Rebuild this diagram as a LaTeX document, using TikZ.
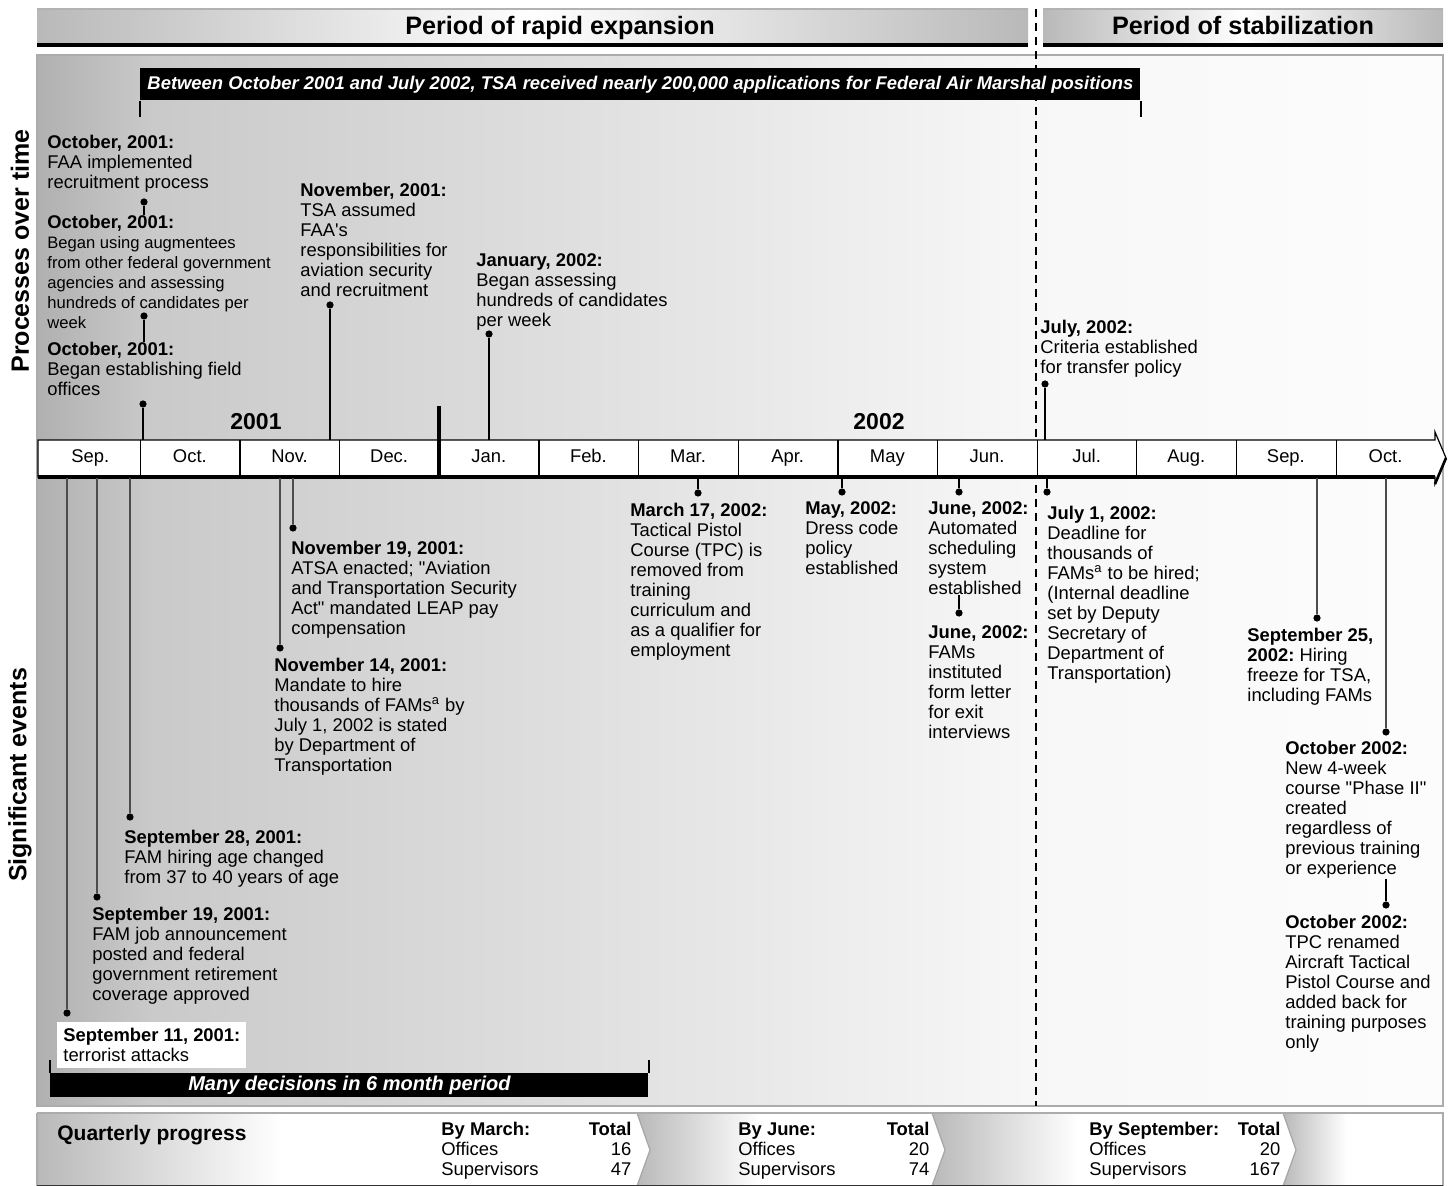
\documentclass[tikz,border=0pt]{standalone}
\usepackage{fontspec}
\setmainfont{Liberation Sans}
\usetikzlibrary{positioning}

\newcommand\evfont{\fontsize{9.2}{10}\selectfont}
\newcommand\evsmall{\fontsize{8.3}{10}\selectfont}
\pgfdeclarehorizontalshading{panelshade}{100bp}{color(0bp)=(gray!62); color(25bp)=(gray!62); color(29bp)=(gray!42); color(45bp)=(gray!24); color(60.5bp)=(gray!6); color(75bp)=(gray!2); color(100bp)=(gray!2)}
\pgfdeclarehorizontalshading{segshade}{100bp}{color(0bp)=(gray!55); color(25bp)=(gray!55); color(45bp)=(white); color(100bp)=(white)}

\begin{document}
\begin{tikzpicture}[x=0.5pt, y=-0.5pt,
    evtext/.style={anchor=north west, align=left, inner sep=0pt, font=\evfont},
    evdot/.style={circle, fill=black, inner sep=0pt, minimum size=3.6pt},
    stem/.style={line width=0.8pt},
    lstem/.style={line width=0.8pt, black!70},
    month/.style={minimum width=49.8pt, inner sep=0pt, text height=6.6pt, text depth=1.9pt, font=\evfont},
    banner/.style={fill=black, text=white, inner sep=0pt, font=\bfseries\itshape\fontsize{9.2}{10}\selectfont},
    header/.style={anchor=base, font=\bfseries\fontsize{12.6}{14}\selectfont},
    yearlbl/.style={font=\bfseries\fontsize{11.5}{13}\selectfont},
    sidelbl/.style={rotate=90, font=\bfseries\fontsize{12.5}{14}\selectfont},
    qtable/.style={anchor=north west, inner sep=0pt, font=\evfont}]

\useasboundingbox (0,0) rectangle (1450,1186);

% period headers
\shade[left color=gray!55, right color=gray!55, middle color=white] (37,9) rectangle (1028,45);
\shade[left color=gray!55, right color=gray!55, middle color=white] (1043,9) rectangle (1443,45);
\draw[gray!60, line width=1pt] (37,9) -- (1028,9) (1043,9) -- (1443,9);
\draw[line width=2pt] (37,45) -- (1028,45) (1043,45) -- (1443,45);
\node[header] (hexp) at (560,35) {Period of rapid expansion};
\node[header] (hstab) at (1243,35) {Period of stabilization};

% main panel
\shade[shading=panelshade] (37,55) rectangle (1443,1106);
\draw[gray!65, line width=1.2pt] (37,55) rectangle (1443,1106);

\node[sidelbl] (lproc) at (20,251) {Processes over time};
\node[sidelbl] (lsig) at (20,775) {Significant events};

% boundary between the two periods
\draw[line width=1.1pt, dash pattern=on 4pt off 3pt] (1036,9) -- (1036,1106);

\node[banner, anchor=north west, minimum width=500pt, minimum height=16pt] (apps) at (140,68)
    {Between October 2001 and July 2002, TSA received nearly 200,000 applications for Federal Air Marshal positions};
\draw[line width=0.7pt] (apps.south west) -- ++(0,16);
\draw[line width=0.7pt] (apps.south east) -- ++(0,16);

% timeline
\coordinate (tlt) at (0,440);
\coordinate (tlb) at (0,478);
\draw[line width=0.6pt, fill=white] (38,440) -- (1435,440) -- (1435,432) -- (1446,458) -- (1435,484) -- (1435,477) -- (38,477) -- cycle;
\foreach \m [count=\i] in {Sep.,Oct.,Nov.,Dec.,Jan.,Feb.,Mar.,Apr.,May,Jun.,Jul.,Aug.,Sep.,Oct.}
    \node[month] (m\i) at ({40.4+99.64*(\i-0.5)},458) {\m};
\foreach \i in {1,...,13}
    \draw[line width=0.6pt] (m\i.east |- tlt) -- (m\i.east |- tlb);
\draw[line width=2pt] (38,477) -- (1435,477);
\draw[line width=1.3pt] (1435,484) -- (1446,458);
\draw[line width=2pt] (m4.east |- tlb) -- ++(0,-72);
\node[yearlbl] (y2001) at (256,422) {2001};
\node[yearlbl] (y2002) at (879,422) {2002};

% processes over time
\node[evtext] (po1) at (47,135) {\textbf{October, 2001:}\\FAA implemented\\recruitment process};
\node[evtext] (po2) at (47,215) {\textbf{October, 2001:}\\\evsmall Began using augmentees\\\evsmall from other federal government\\\evsmall agencies and assessing\\\evsmall hundreds of candidates per\\\evsmall week};
\node[evtext] (po3) at (47,342) {\textbf{October, 2001:}\\Began establishing field\\offices};
\node[evtext] (pnov) at (300,183) {\textbf{November, 2001:}\\TSA assumed\\FAA\textquotesingle s\\responsibilities for\\aviation security\\and recruitment};
\node[evtext] (pjan) at (476,253) {\textbf{January, 2002:}\\Began assessing\\hundreds of candidates\\per week};
\node[evtext] (pjul) at (1040,320) {\textbf{July, 2002:}\\Criteria established\\for transfer policy};

\node[evdot] (dpo1) at (144,202) {};
\node[evdot] (dpo2) at (144,316) {};
\node[evdot] (dpo3) at (143,404) {};
\node[evdot] (dpnov) at (330,305) {};
\node[evdot] (dpjan) at (489,334) {};
\node[evdot] (dpjul) at (1045,384) {};
\draw[stem] (dpo1) -- (dpo1 |- po2.north);
\draw[stem] (dpo2) -- (dpo2 |- po3.north);
\foreach \d in {dpo3,dpnov,dpjan,dpjul}
    \draw[stem] (\d) -- (\d |- tlt);

% significant events
\node[evtext, fill=white, inner xsep=3pt, inner ysep=3pt] (se11) at (57,1022) {\textbf{September 11, 2001:}\\terrorist attacks};
\node[evtext] (se19) at (92,907) {\textbf{September 19, 2001:}\\FAM job announcement\\posted and federal\\government retirement\\coverage approved};
\node[evtext] (se28) at (124,830) {\textbf{September 28, 2001:}\\FAM hiring age changed\\from 37 to 40 years of age};
\node[evtext] (sn14) at (274,658) {\textbf{November 14, 2001:}\\Mandate to hire\\thousands of FAMs\textsuperscript{a} by\\July 1, 2002 is stated\\by Department of\\Transportation};
\node[evtext] (sn19) at (291,541) {\textbf{November 19, 2001:}\\ATSA enacted; \textquotedbl Aviation\\and Transportation Security\\Act\textquotedbl{} mandated LEAP pay\\compensation};
\node[evtext] (sm17) at (630,503) {\textbf{March 17, 2002:}\\Tactical Pistol\\Course (TPC) is\\removed from\\training\\curriculum and\\as a qualifier for\\employment};
\node[evtext] (smay) at (805,501) {\textbf{May, 2002:}\\Dress code\\policy\\established};
\node[evtext] (sjun1) at (928,501) {\textbf{June, 2002:}\\Automated\\scheduling\\system\\established};
\node[evtext] (sjun2) at (928,625) {\textbf{June, 2002:}\\FAMs\\instituted\\form letter\\for exit\\interviews};
\node[evtext] (sjul) at (1047,506) {\textbf{July 1, 2002:}\\Deadline for\\thousands of\\FAMs\textsuperscript{a} to be hired;\\(Internal deadline\\set by Deputy\\Secretary of\\Department of\\Transportation)};
\node[evtext] (ss25) at (1247,628) {\textbf{September 25,}\\\textbf{2002:}\ Hiring\\freeze for TSA,\\including FAMs};
\node[evtext] (so1) at (1285,741) {\textbf{October 2002:}\\New 4-week\\course \textquotedbl Phase II\textquotedbl\\created\\regardless of\\previous training\\or experience};
\node[evtext] (so2) at (1285,915) {\textbf{October 2002:}\\TPC renamed\\Aircraft Tactical\\Pistol Course and\\added back for\\training purposes\\only};

\node[evdot] (dse11) at (67,1013) {};
\node[evdot] (dse19) at (97,897) {};
\node[evdot] (dse28) at (130,817) {};
\node[evdot] (dsn14) at (280,648) {};
\node[evdot] (dsn19) at (293,528) {};
\node[evdot] (dsm17) at (698,493) {};
\node[evdot] (dsmay) at (842,492) {};
\node[evdot] (dsjun1) at (959,492) {};
\node[evdot] (dsjun2) at (959,613) {};
\node[evdot] (dsjul) at (1047,492) {};
\node[evdot] (dss25) at (1317,618) {};
\node[evdot] (dso1) at (1386,732) {};
\node[evdot] (dso2) at (1386,905) {};
\foreach \d in {dse11,dse19,dse28,dsn14,dsn19,dss25,dso1}
    \draw[lstem] (\d |- tlb) -- (\d);
\foreach \d in {dsm17,dsmay,dsjun1,dsjul}
    \draw[stem] (\d |- tlb) -- (\d);
\draw[stem] (dsjun2 |- sjun1.south) -- (dsjun2);
\draw[stem] (dso2 |- so1.south) -- (dso2);

\node[banner, anchor=north west, minimum width=299pt, minimum height=12pt, font=\bfseries\itshape\fontsize{10}{12}\selectfont] (many) at (50,1073) {Many decisions in 6 month period};
\draw[line width=0.7pt] (many.north west) -- ++(0,-13);
\draw[line width=0.7pt] (many.north east) -- ++(0,-13);

% quarterly progress
\shade[shading=segshade] (37,1113) -- (637,1113) -- (650,1150) -- (637,1186) -- (37,1186) -- cycle;
\shade[shading=segshade] (637,1113) -- (932,1113) -- (945,1150) -- (932,1186) -- (637,1186) -- (650,1150) -- cycle;
\shade[shading=segshade] (932,1113) -- (1283,1113) -- (1296,1150) -- (1283,1186) -- (932,1186) -- (945,1150) -- cycle;
\shade[shading=segshade] (1283,1113) -- (1443,1113) -- (1443,1186) -- (1283,1186) -- (1296,1150) -- cycle;
\draw[gray!70, line width=0.6pt] (637,1113) -- (650,1150) -- (637,1186) (932,1113) -- (945,1150) -- (932,1186) (1283,1113) -- (1296,1150) -- (1283,1186);
\draw[gray!65, line width=1.2pt] (37,1113) -- (1443,1113) -- (1443,1186);
\draw[gray!65, line width=1.2pt] (37,1113) -- (37,1186);
\draw[black!80, line width=1pt] (37,1186) -- (1443,1186);

\node[anchor=west, inner sep=0pt, font=\bfseries\fontsize{10.5}{12}\selectfont] (qp) at (57,1135) {Quarterly progress};
\node[qtable] (qmar) at (441,1121) {\begin{tabular*}{95pt}{@{}l@{\extracolsep{\fill}}r@{}}\textbf{By March:} & \textbf{Total}\\Offices & 16\\Supervisors & 47\end{tabular*}};
\node[qtable] (qjun) at (738,1121) {\begin{tabular*}{95.5pt}{@{}l@{\extracolsep{\fill}}r@{}}\textbf{By June:} & \textbf{Total}\\Offices & 20\\Supervisors & 74\end{tabular*}};
\node[qtable] (qsep) at (1089,1121) {\begin{tabular*}{95.5pt}{@{}l@{\extracolsep{\fill}}r@{}}\textbf{By September:} & \textbf{Total}\\Offices & 20\\Supervisors & 167\end{tabular*}};
\end{tikzpicture}
\end{document}
